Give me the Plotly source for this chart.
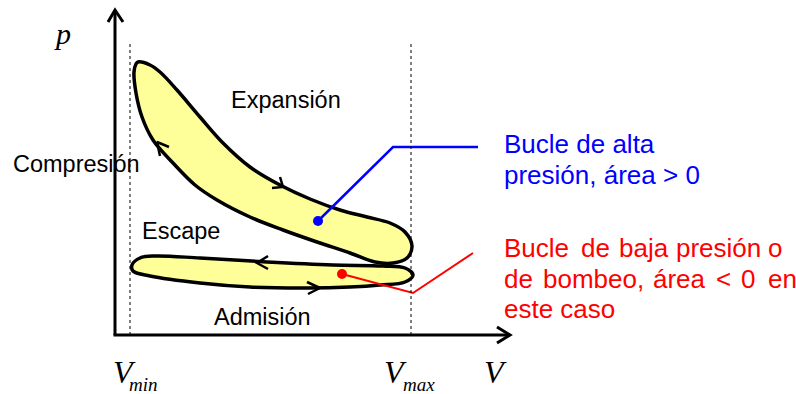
import plotly.graph_objects as go

# ---- data (V arbitrary units, p arbitrary units) ----
V_MIN = 20
V_MAX = 301
V_AXIS = 5          # position of p axis
P_TOP = 325         # top of p axis arrow
V_RIGHT = 400       # tip of V axis arrow
P_DOT_TOP = 291     # top of dotted Vmin/Vmax lines

# high-pressure loop outline (expansion edge then compression edge)
high_V = [28, 40, 50, 67, 90, 113, 140, 170, 200, 230, 257, 280, 295, 302, 297, 283,
          265, 240, 207, 173, 140, 107, 85, 63, 43, 32, 26, 24, 26, 28]
high_p = [273, 270, 263, 245, 218, 192, 168, 150, 136, 125, 118, 112, 103, 89, 77, 72,
          73, 82, 93, 105, 118, 135, 150, 172, 195, 218, 242, 263, 271, 273]

# low-pressure (pumping) loop outline
low_V = [22, 30, 45, 90, 157, 223, 273, 295, 303, 295, 270, 240, 197, 140, 90, 40, 23, 22]
low_p = [70, 77, 79, 77, 73, 70, 69, 67, 60, 53, 50, 48, 47, 48, 52, 59, 64, 70]

# direction chevrons (wing, tip, wing)
chev_exp_V, chev_exp_p = [162, 173, 170], [147, 148, 158]
chev_comp_V, chev_comp_p = [59, 47, 50], [188, 193, 179]
chev_esc_V, chev_esc_p = [158, 147, 158], [79, 72, 66]
chev_adm_V, chev_adm_p = [197, 210, 198], [53, 47, 41]

# callout leaders
blue_V, blue_p = [208, 283, 368], [114, 188, 188]
red_V, red_p = [232, 303, 363], [61, 42, 82]

# callout texts
blue_lines = ["Bucle de alta", "presión, área > 0"]
red_line1 = ["Bucle", "de", "baja", "presión", "o"]
red_line2 = ["de", "bombeo,", "área", "<", "0", "en"]
red_line3 = "este caso"
# word start positions (V units) for the justified red paragraph
red_x1 = [393, 470, 508, 565, 657]
red_x2 = [393, 432, 542, 605, 630, 657]

FILL = "#FFFF99"
SANS = "Liberation Sans, Arial, sans-serif"
SERIF = "Liberation Serif, Times New Roman, serif"

fig = go.Figure()

# dotted Vmin / Vmax lines
for v in (V_MIN, V_MAX):
    fig.add_shape(type="line", x0=v, x1=v, y0=0, y1=P_DOT_TOP, xref="x", yref="y",
                  line=dict(color="black", width=1, dash="dot"))

# axes with open arrowheads
fig.add_trace(go.Scatter(x=[V_AXIS, V_AXIS, None, V_AXIS - 7, V_AXIS, V_AXIS + 8],
                         y=[0, P_TOP, None, P_TOP - 12, P_TOP, P_TOP - 12],
                         mode="lines", line=dict(color="black", width=3), hoverinfo="skip"))
fig.add_trace(go.Scatter(x=[V_AXIS - 1.5, V_RIGHT, None, V_RIGHT - 13, V_RIGHT, V_RIGHT - 13],
                         y=[0, 0, None, 8, 0, -8],
                         mode="lines", line=dict(color="black", width=3), hoverinfo="skip"))

# loops
fig.add_trace(go.Scatter(x=low_V, y=low_p, mode="lines", fill="toself", fillcolor=FILL,
                         line=dict(color="black", width=3.5, shape="spline", smoothing=1.0),
                         hoverinfo="skip"))
fig.add_trace(go.Scatter(x=high_V, y=high_p, mode="lines", fill="toself", fillcolor=FILL,
                         line=dict(color="black", width=3.5, shape="spline", smoothing=1.0),
                         hoverinfo="skip"))

# chevrons
for cv, cp in [(chev_exp_V, chev_exp_p), (chev_comp_V, chev_comp_p),
               (chev_esc_V, chev_esc_p), (chev_adm_V, chev_adm_p)]:
    fig.add_trace(go.Scatter(x=cv, y=cp, mode="lines",
                             line=dict(color="black", width=2.5), hoverinfo="skip"))

# callout leaders and dots
fig.add_trace(go.Scatter(x=blue_V, y=blue_p, mode="lines",
                         line=dict(color="#0000FF", width=2.5), hoverinfo="skip"))
fig.add_trace(go.Scatter(x=[blue_V[0]], y=[blue_p[0]], mode="markers",
                         marker=dict(color="#0000FF", size=10), hoverinfo="skip"))
fig.add_trace(go.Scatter(x=red_V, y=red_p, mode="lines",
                         line=dict(color="#FF0000", width=2), hoverinfo="skip"))
fig.add_trace(go.Scatter(x=[red_V[0]], y=[red_p[0]], mode="markers",
                         marker=dict(color="#FF0000", size=10), hoverinfo="skip"))

ann = []


def txt(x, y, s, size, color="black", family=SANS, xanchor="left", italic=False):
    if italic:
        s = "<i>" + s + "</i>"
    ann.append(dict(x=x, y=y, xref="x", yref="y", text=s, showarrow=False,
                    xanchor=xanchor, yanchor="middle", borderpad=0,
                    font=dict(family=family, size=size, color=color)))


# region labels
txt(176, 235.5, "Expansión", 23.5, xanchor="center")
txt(-98, 171.5, "Compresión", 23.5)
txt(71, 104, "Escape", 23.5, xanchor="center")
txt(152.5, 18, "Admisión", 23.5, xanchor="center")

# axis labels
txt(-48, 302, "p", 30, family=SERIF, xanchor="center", italic=True)
txt(2, -37, "V", 32, family=SERIF, italic=True)
txt(18, -49.5, "min", 19, family=SERIF, italic=True)
txt(273, -37, "V", 32, family=SERIF, italic=True)
txt(292, -49.5, "max", 19, family=SERIF, italic=True)
txt(373, -37, "V", 32, family=SERIF, italic=True)

# blue callout text
txt(393, 191, blue_lines[0], 26, color="#0000FF")
txt(393, 160, blue_lines[1], 26, color="#0000FF")

# red callout text (justified word placement)
for w, x in zip(red_line1, red_x1):
    txt(x, 87, w, 26, color="#FF0000")
for w, x in zip(red_line2, red_x2):
    txt(x, 56.5, w, 26, color="#FF0000")
txt(393, 26, red_line3, 26, color="#FF0000")

fig.update_layout(
    width=796, height=394, autosize=False,
    margin=dict(l=0, r=0, t=0, b=0),
    paper_bgcolor="white", plot_bgcolor="white",
    showlegend=False,
    xaxis=dict(range=[-110, 686], visible=False, fixedrange=True),
    yaxis=dict(range=[-59, 335], visible=False, fixedrange=True),
    annotations=ann,
)

fig.write_html("out.html", config={"displayModeBar": False},
               post_script="document.body.style.margin='0';")
